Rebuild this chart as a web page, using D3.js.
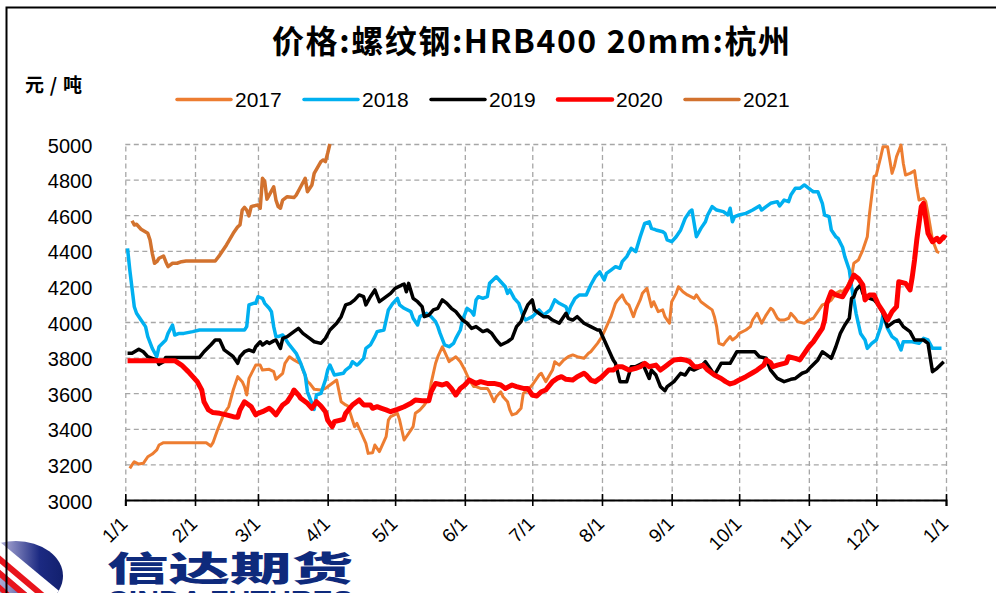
<!DOCTYPE html>
<html>
<head>
<meta charset="utf-8">
<script src="https://cdn.jsdelivr.net/npm/d3@7"></script>
<style>
  body { margin: 0; background: #fff; }
  svg { display: block; }
</style>
</head>
<body>
<svg id="chart" width="996" height="593"></svg>
<script>
// series meta
const years = ["2017", "2018", "2019", "2020", "2021"];
const colors = ["#ED7D31", "#00B0F0", "#000000", "#FF0000", "#D2722E"];
const lineWidths = [3, 3.5, 3.5, 5, 3.5];
const yTicks = [3000, 3200, 3400, 3600, 3800, 4000, 4200, 4400, 4600, 4800, 5000];
const monthLabels = ["1/1", "2/1", "3/1", "4/1", "5/1", "6/1", "7/1", "8/1", "9/1", "10/1", "11/1", "12/1", "1/1"];

// [day of year (0 = 1/1), price yuan/ton]
const s2017 = [[2,3178],[3,3197],[4,3215],[6,3202],[8,3206],[10,3243],[12,3258],[14,3281],[15,3309],[17,3322],[36,3322],[38,3303],[39,3322],[41,3393],[44,3487],[46,3524],[48,3618],[50,3693],[52,3665],[53,3637],[54,3590],[55,3683],[58,3758],[60,3758],[61,3730],[64,3734],[66,3721],[67,3678],[70,3712],[71,3768],[73,3805],[75,3787],[77,3772],[78,3768],[79,3730],[81,3665],[82,3655],[84,3622],[87,3618],[89,3627],[91,3646],[94,3674],[96,3552],[98,3534],[99,3528],[101,3449],[102,3412],[103,3431],[105,3375],[107,3318],[108,3262],[110,3266],[111,3309],[112,3290],[113,3272],[115,3328],[116,3356],[117,3449],[118,3468],[121,3487],[122,3449],[124,3337],[127,3393],[128,3412],[129,3487],[131,3506],[133,3534],[135,3571],[136,3655],[138,3768],[139,3805],[141,3861],[142,3833],[144,3777],[145,3787],[147,3805],[149,3777],[151,3730],[153,3674],[155,3637],[156,3637],[158,3627],[161,3627],[162,3608],[164,3552],[165,3580],[167,3608],[168,3580],[170,3552],[171,3506],[172,3478],[174,3487],[176,3515],[177,3599],[179,3618],[181,3646],[184,3702],[185,3712],[187,3665],[190,3730],[191,3777],[193,3758],[195,3787],[197,3805],[199,3815],[201,3805],[204,3796],[206,3824],[207,3833],[210,3880],[212,3918],[214,3974],[216,4030],[218,4105],[219,4124],[221,4152],[222,4124],[223,4105],[224,4096],[226,4030],[227,4068],[229,4124],[230,4161],[232,4189],[234,4086],[235,4114],[237,4058],[239,4068],[240,4030],[241,4011],[242,3993],[243,4114],[245,4161],[246,4198],[248,4170],[250,4152],[253,4133],[254,4152],[256,4114],[259,4086],[261,4068],[262,4030],[263,3974],[264,3880],[266,3871],[267,3889],[269,3918],[270,3899],[272,3918],[273,3936],[276,3955],[278,3974],[279,4011],[281,4049],[283,3993],[285,4039],[287,4077],[288,4068],[290,4021],[291,4011],[293,4011],[295,4021],[296,4049],[298,4021],[299,4002],[302,3993],[304,4011],[306,4021],[308,4058],[310,4096],[312,4105],[314,4124],[316,4161],[318,4175],[319,4170],[321,4198],[323,4254],[324,4330],[326,4348],[328,4404],[330,4479],[331,4610],[333,4817],[334,4826],[336,4929],[337,4985],[339,4985],[340,4910],[341,4835],[342,4873],[343,4929],[345,4994],[346,4892],[347,4826],[349,4835],[351,4850],[352,4760],[353,4685],[355,4695],[356,4676],[357,4610],[358,4535],[359,4461],[361,4395],[362,4390]];

const s2018 = [[1,4414],[2,4292],[4,4086],[5,4049],[7,4011],[9,3974],[10,3918],[12,3852],[14,3805],[15,3861],[18,3899],[19,3936],[21,3983],[22,3927],[24,3936],[26,3936],[30,3946],[33,3955],[53,3955],[54,3974],[55,4096],[57,4105],[58,4105],[59,4142],[61,4133],[62,4105],[64,4077],[65,4058],[66,3974],[67,3918],[68,3918],[70,3927],[73,3871],[76,3824],[78,3768],[80,3702],[81,3608],[83,3543],[84,3509],[85,3590],[87,3599],[89,3674],[90,3730],[91,3758],[93,3702],[97,3712],[98,3730],[100,3749],[101,3777],[103,3758],[104,3768],[106,3796],[107,3852],[109,3871],[111,3918],[112,3946],[115,3955],[116,4011],[117,4068],[119,4105],[121,4133],[122,4096],[124,4077],[127,4058],[128,4021],[130,3983],[131,4030],[134,4049],[136,4030],[138,4002],[139,3974],[140,3936],[142,3871],[144,3861],[146,3880],[147,3908],[149,3955],[150,4011],[152,4077],[154,4058],[155,4039],[156,4124],[157,4142],[159,4133],[161,4142],[162,4217],[165,4254],[167,4226],[169,4198],[170,4161],[171,4180],[173,4133],[175,4105],[176,4068],[177,4030],[178,4011],[181,4030],[184,4068],[186,4039],[189,4068],[191,4124],[193,4105],[196,4086],[197,4049],[198,4086],[200,4133],[202,4152],[205,4152],[207,4208],[209,4254],[211,4282],[213,4236],[214,4273],[216,4292],[218,4311],[220,4302],[221,4339],[223,4367],[225,4414],[227,4395],[229,4479],[231,4554],[233,4563],[234,4526],[236,4517],[239,4507],[240,4498],[241,4461],[243,4451],[245,4479],[247,4517],[249,4582],[251,4620],[252,4629],[254,4479],[256,4526],[258,4563],[259,4601],[261,4648],[263,4629],[266,4620],[268,4601],[269,4639],[270,4563],[271,4592],[273,4601],[276,4610],[279,4629],[282,4652],[283,4629],[285,4648],[287,4667],[290,4676],[291,4652],[293,4685],[295,4676],[296,4713],[298,4751],[300,4751],[302,4770],[305,4741],[306,4732],[308,4732],[310,4667],[311,4601],[313,4592],[314,4517],[316,4479],[317,4470],[319,4420],[320,4367],[322,4292],[323,4198],[325,4049],[327,3936],[329,3899],[330,3852],[332,3880],[334,3899],[336,3974],[337,4040],[339,3964],[341,3918],[343,3899],[345,3843],[346,3889],[350,3889],[353,3880],[355,3908],[357,3899],[359,3852],[363,3852]];

const s2019 = [[1,3824],[3,3824],[6,3847],[8,3833],[10,3805],[12,3796],[14,3787],[15,3762],[17,3777],[18,3801],[33,3801],[35,3833],[38,3871],[40,3899],[42,3899],[44,3843],[47,3815],[48,3805],[50,3768],[51,3805],[53,3833],[55,3843],[57,3833],[58,3861],[60,3889],[61,3871],[63,3889],[64,3880],[66,3894],[67,3899],[69,3852],[70,3908],[72,3918],[75,3946],[77,3964],[79,3936],[82,3908],[84,3889],[87,3880],[89,3908],[91,3955],[94,3993],[96,4030],[98,4096],[100,4105],[102,4124],[104,4152],[106,4142],[107,4096],[109,4142],[111,4180],[113,4114],[115,4133],[118,4161],[120,4189],[123,4208],[124,4213],[125,4170],[126,4217],[128,4133],[130,4114],[132,4086],[133,4030],[135,4039],[137,4068],[139,4077],[141,4124],[143,4105],[145,4077],[147,4058],[150,4011],[152,3993],[154,3964],[156,3974],[159,3946],[161,3955],[163,3936],[165,3899],[167,3871],[170,3889],[172,3908],[174,3974],[176,4002],[177,4039],[179,4096],[181,4124],[182,4068],[184,4049],[186,4030],[188,4030],[190,4011],[193,3993],[196,4049],[197,4021],[199,4011],[201,4030],[204,3993],[207,3974],[210,3955],[211,3955],[213,3899],[215,3843],[217,3787],[218,3768],[220,3665],[223,3665],[225,3749],[227,3749],[230,3768],[231,3740],[233,3683],[234,3730],[236,3702],[238,3637],[240,3614],[241,3637],[244,3665],[247,3712],[249,3702],[251,3740],[253,3730],[256,3749],[258,3777],[260,3740],[262,3702],[265,3768],[267,3768],[269,3768],[272,3833],[280,3833],[282,3805],[285,3796],[287,3730],[290,3683],[293,3665],[296,3678],[298,3683],[301,3712],[303,3721],[305,3749],[308,3787],[310,3833],[312,3815],[314,3796],[316,3861],[318,3936],[320,3983],[322,4021],[323,4133],[324,4142],[325,4180],[327,4208],[328,4161],[331,4133],[333,4124],[335,4096],[337,4049],[339,3974],[342,4002],[344,4011],[346,3974],[349,3946],[351,3899],[355,3899],[357,3880],[359,3721],[361,3740],[364,3777]];

const s2020 = [[1,3783],[22,3783],[25,3758],[28,3721],[30,3693],[32,3665],[34,3618],[35,3552],[37,3506],[39,3491],[42,3487],[45,3478],[48,3468],[50,3465],[51,3506],[53,3552],[55,3534],[56,3524],[58,3478],[59,3487],[61,3496],[64,3515],[65,3506],[67,3478],[70,3534],[72,3552],[74,3590],[75,3618],[77,3590],[78,3571],[81,3543],[83,3515],[85,3552],[87,3528],[89,3496],[90,3449],[92,3412],[93,3440],[97,3453],[98,3487],[101,3534],[104,3562],[106,3534],[109,3534],[110,3515],[112,3524],[114,3515],[116,3506],[118,3496],[121,3509],[124,3524],[127,3543],[129,3562],[132,3558],[135,3558],[136,3608],[138,3655],[141,3646],[143,3655],[145,3627],[147,3590],[149,3627],[151,3646],[153,3674],[156,3655],[158,3665],[161,3655],[164,3655],[167,3646],[169,3627],[172,3646],[174,3637],[177,3627],[179,3627],[181,3590],[183,3584],[185,3608],[187,3618],[190,3665],[192,3683],[194,3693],[196,3678],[199,3674],[201,3693],[204,3712],[205,3702],[207,3674],[209,3665],[212,3693],[215,3730],[217,3730],[219,3749],[221,3749],[224,3730],[227,3740],[229,3749],[231,3768],[233,3749],[236,3758],[238,3730],[240,3749],[242,3768],[244,3787],[247,3791],[249,3787],[251,3777],[253,3749],[255,3749],[257,3758],[259,3730],[262,3702],[265,3683],[267,3665],[269,3652],[271,3660],[273,3674],[276,3693],[279,3715],[281,3730],[284,3758],[285,3787],[287,3772],[288,3749],[290,3758],[293,3768],[294,3772],[295,3805],[298,3796],[300,3787],[302,3824],[304,3861],[306,3889],[308,3927],[310,3964],[311,4011],[312,4105],[314,4170],[316,4152],[319,4142],[322,4208],[324,4264],[326,4245],[328,4208],[329,4124],[331,4152],[333,4152],[335,4096],[337,4058],[339,4011],[341,4058],[343,4086],[344,4226],[347,4217],[349,4180],[350,4254],[351,4348],[352,4461],[354,4648],[355,4667],[357,4498],[359,4451],[361,4470],[362,4451],[364,4479],[365,4470]];

const s2021 = [[3,4569],[4,4545],[5,4549],[6,4535],[7,4521],[10,4498],[11,4461],[12,4386],[13,4330],[14,4339],[15,4358],[17,4371],[18,4339],[19,4311],[21,4330],[23,4330],[25,4339],[27,4343],[40,4343],[42,4376],[45,4433],[48,4498],[50,4535],[51,4545],[52,4629],[53,4644],[54,4629],[55,4596],[56,4648],[57,4652],[59,4657],[60,4639],[61,4807],[62,4790],[63,4690],[64,4713],[66,4760],[67,4685],[68,4648],[69,4639],[70,4685],[72,4704],[75,4699],[76,4713],[78,4760],[80,4807],[81,4732],[83,4770],[84,4835],[87,4901],[88,4910],[89,4901],[90,4948],[91,5000]];

const seriesData = [s2017, s2018, s2019, s2020, s2021];

const svg = d3.select("#chart");
const start = new Date(2021, 0, 1);
const plotL = 125.3, plotR = 946, plotT = 144, plotB = 500;

const x = d3.scaleTime()
  .domain([start, new Date(2022, 0, 1)])
  .range([plotL, plotR]);

const y = d3.scaleLinear()
  .domain([3000, 5000])
  .range([plotB, plotT]);

const monthTicks = d3.timeMonth.range(start, new Date(2022, 0, 2));

// title
svg.append("text")
  .attr("x", 272).attr("y", 53)
  .attr("textLength", 518).attr("lengthAdjust", "spacing")
  .style("font-family", "'Noto Sans CJK SC', sans-serif")
  .style("font-weight", 700)
  .style("font-size", "32px")
  .text("价格:螺纹钢:HRB400 20mm:杭州");

svg.append("text")
  .attr("x", 25).attr("y", 92)
  .attr("textLength", 57).attr("lengthAdjust", "spacing")
  .style("font-family", "'Noto Sans CJK SC', sans-serif")
  .style("font-weight", 700)
  .style("font-size", "19px")
  .text("元/吨");

// legend
const legend = svg.append("g");
years.forEach((yr, i) => {
  const lx = 177 + i * 127;
  legend.append("line")
    .attr("x1", lx).attr("x2", lx + 54)
    .attr("y1", 99.5).attr("y2", 99.5)
    .attr("stroke", colors[i])
    .attr("stroke-width", i === 3 ? 4.5 : 3.5)
    .attr("stroke-linecap", "round");
  legend.append("text")
    .attr("x", lx + 58).attr("y", 107)
    .style("font-family", "'Liberation Sans', Arial, sans-serif")
    .style("font-size", "21px")
    .text(yr);
});

// grids
const yGrid = svg.append("g")
  .attr("transform", `translate(${plotL},0)`)
  .call(d3.axisLeft(y).tickValues(yTicks).tickSize(-(plotR - plotL)).tickPadding(33)
    .tickFormat(d3.format("d")));
yGrid.select(".domain").remove();
yGrid.selectAll(".tick line")
  .attr("stroke", "#a6a6a6").attr("stroke-width", 1.3).attr("stroke-dasharray", "5,3.5");
yGrid.selectAll(".tick text")
  .attr("dy", "0.4em")
  .style("font-family", "'Liberation Sans', Arial, sans-serif")
  .style("font-size", "20px")
  .attr("fill", "#000");

const xGrid = svg.append("g")
  .attr("transform", `translate(0,${plotB})`)
  .call(d3.axisBottom(x).tickValues(monthTicks).tickSize(-(plotB - plotT)).tickFormat(""));
xGrid.select(".domain").remove();
xGrid.selectAll(".tick line")
  .attr("stroke", "#a6a6a6").attr("stroke-width", 1.3).attr("stroke-dasharray", "5,3.5");

// lines
const line = d3.line()
  .x(d => x(d3.timeDay.offset(start, d[0])))
  .y(d => y(d[1]));

seriesData.forEach((data, i) => {
  svg.append("path")
    .datum(data)
    .attr("fill", "none")
    .attr("stroke", colors[i])
    .attr("stroke-width", lineWidths[i])
    .attr("stroke-linejoin", "round")
    .attr("d", line);
});

// x axis
const xAxis = svg.append("g")
  .attr("transform", `translate(0,${plotB})`)
  .call(d3.axisBottom(x).tickValues(monthTicks).tickSizeOuter(0).tickSize(6)
    .tickFormat((d, i) => monthLabels[i]));
xAxis.select(".domain").attr("stroke", "#000").attr("stroke-width", 2);
xAxis.selectAll(".tick line").attr("y1", -6).attr("stroke-width", 1.6);
xAxis.selectAll(".tick text")
  .attr("x", 0).attr("y", 0).attr("dy", 0)
  .attr("text-anchor", "end")
  .attr("transform", "translate(3,25) rotate(-45)")
  .style("font-family", "'Liberation Sans', Arial, sans-serif")
  .style("font-size", "19px")
  .attr("fill", "#000");

// logo
const defs = svg.append("defs");
const grad = defs.append("linearGradient").attr("id", "logoGrad")
  .attr("x1", "0").attr("x2", "1").attr("y1", "0").attr("y2", "0");
grad.append("stop").attr("offset", "0").attr("stop-color", "#f2f2fa");
grad.append("stop").attr("offset", "0.4").attr("stop-color", "#9a9acb");
grad.append("stop").attr("offset", "0.75").attr("stop-color", "#1c2a82");
grad.append("stop").attr("offset", "1").attr("stop-color", "#12206e");
defs.append("clipPath").attr("id", "logoClip")
  .append("ellipse").attr("cx", 16).attr("cy", 576).attr("rx", 47).attr("ry", 35);

const logo = svg.append("g");
logo.append("ellipse").attr("cx", 16).attr("cy", 576).attr("rx", 47).attr("ry", 35)
  .attr("fill", "url(#logoGrad)");
const stripes = logo.append("g").attr("clip-path", "url(#logoClip)");
stripes.append("line").attr("x1", -10).attr("y1", 548).attr("x2", 60).attr("y2", 606)
  .attr("stroke", "#fff").attr("stroke-width", 22);
[[-10, 551, 55, 606, 6], [-10, 565, 40, 608, 6], [-10, 579, 25, 610, 5]].forEach(s => {
  stripes.append("line").attr("x1", s[0]).attr("y1", s[1]).attr("x2", s[2]).attr("y2", s[3])
    .attr("stroke", "#e8141c").attr("stroke-width", s[4]);
});

svg.append("text")
  .attr("x", 107).attr("y", 581)
  .attr("textLength", 246).attr("lengthAdjust", "spacingAndGlyphs")
  .style("font-family", "'Noto Sans CJK SC', sans-serif")
  .style("font-weight", 900)
  .style("font-size", "34px")
  .attr("fill", "#0e2a7c")
  .text("信达期货");

svg.append("text")
  .attr("x", 107).attr("y", 608)
  .attr("textLength", 246).attr("lengthAdjust", "spacingAndGlyphs")
  .style("font-family", "'Liberation Sans', Arial, sans-serif")
  .style("font-weight", 700)
  .style("font-size", "23px")
  .attr("fill", "#0e2a7c")
  .text("CINDA FUTURES");

// frame
svg.append("path")
  .attr("d", "M6.5,593 V7.5 H996")
  .attr("fill", "none")
  .attr("stroke", "#000")
  .attr("stroke-width", 2);
</script>
</body>
</html>
